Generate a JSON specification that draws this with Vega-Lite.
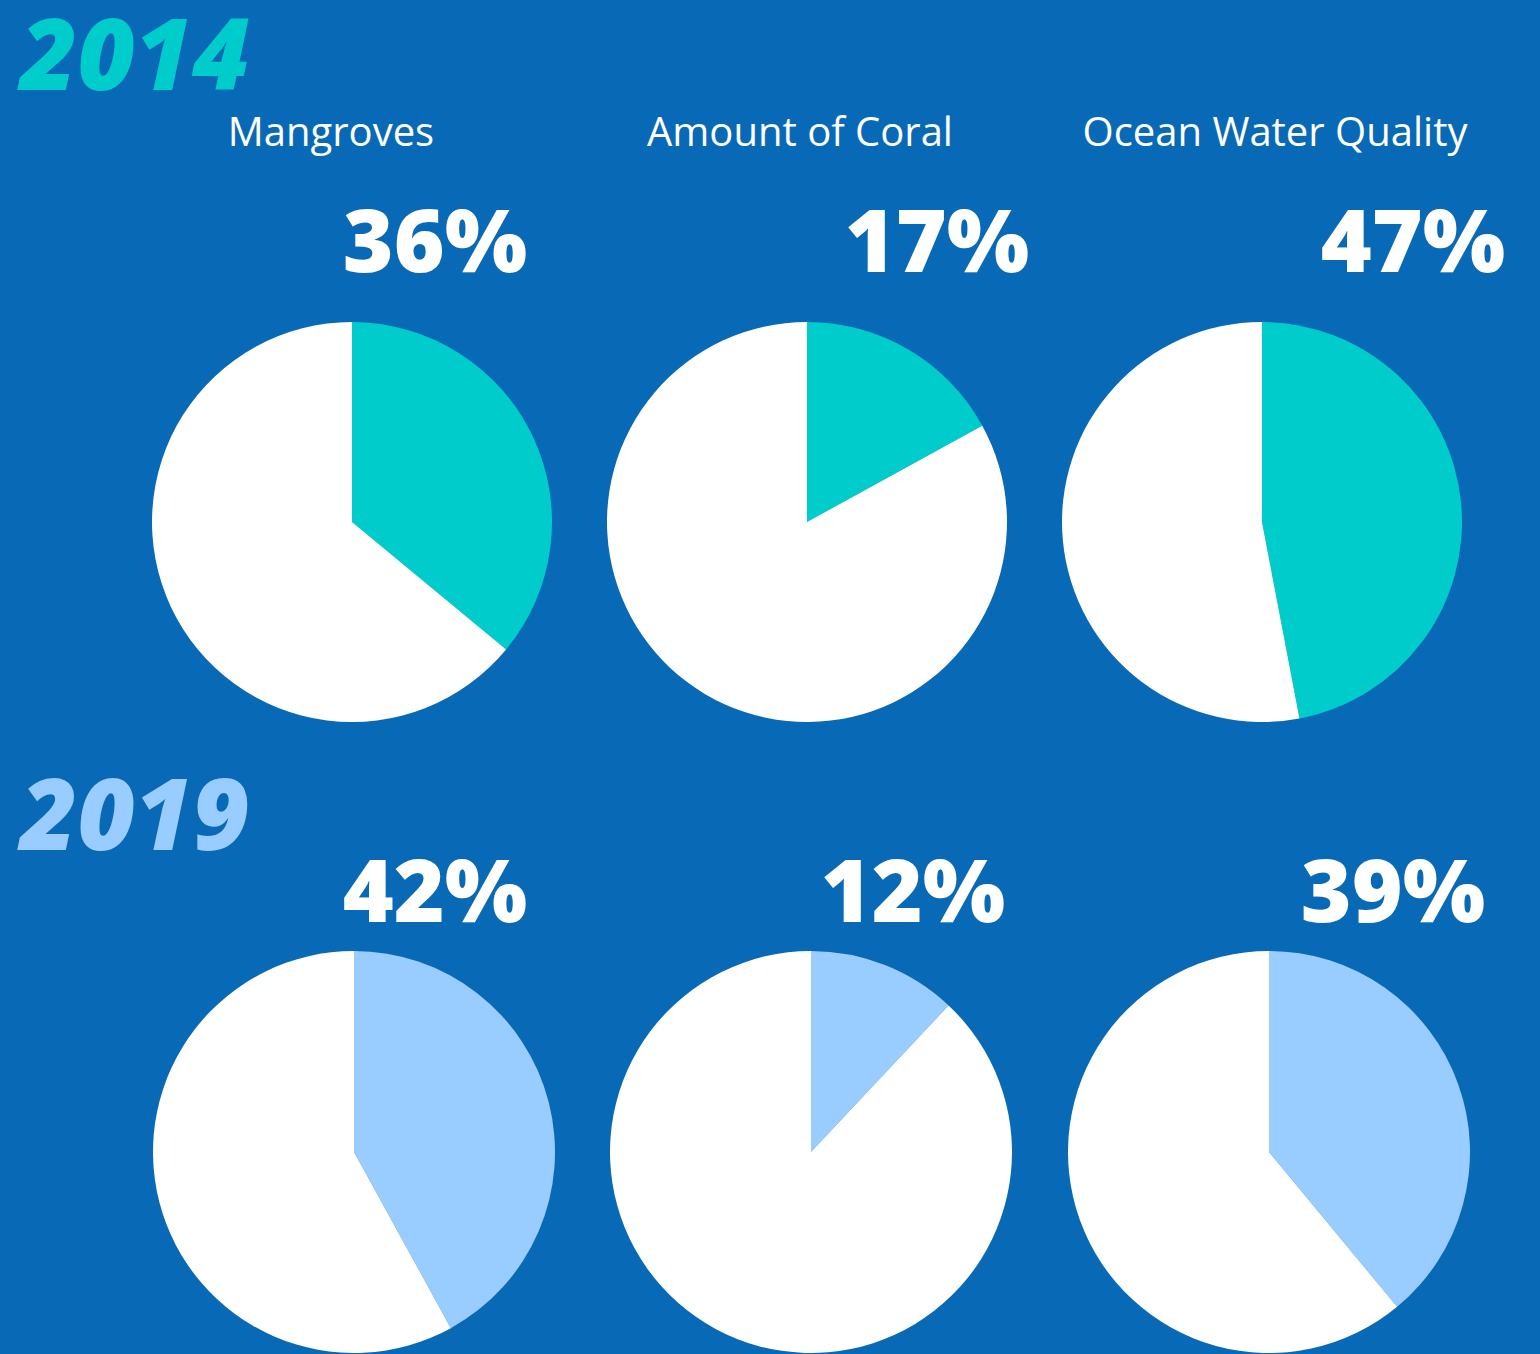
{
  "$schema": "https://vega.github.io/schema/vega-lite/v6.json",
  "width": 1540,
  "height": 1354,
  "autosize": {"type": "fit", "contains": "padding"},
  "padding": 0,
  "background": "#0869B6",
  "config": {"view": {"stroke": null}},
  "datasets": {
    "pies": [
      {"year": 2014, "col": 0, "category": "Mangroves", "seg": "2014", "start": 0, "end": 36, "label": "36%"},
      {"year": 2014, "col": 0, "category": "Mangroves", "seg": "rest", "start": 36, "end": 100, "label": ""},
      {"year": 2014, "col": 1, "category": "Amount of Coral", "seg": "2014", "start": 0, "end": 17, "label": "17%"},
      {"year": 2014, "col": 1, "category": "Amount of Coral", "seg": "rest", "start": 17, "end": 100, "label": ""},
      {"year": 2014, "col": 2, "category": "Ocean Water Quality", "seg": "2014", "start": 0, "end": 47, "label": "47%"},
      {"year": 2014, "col": 2, "category": "Ocean Water Quality", "seg": "rest", "start": 47, "end": 100, "label": ""},
      {"year": 2019, "col": 0, "category": "Mangroves", "seg": "2019", "start": 0, "end": 42, "label": "42%"},
      {"year": 2019, "col": 0, "category": "Mangroves", "seg": "rest", "start": 42, "end": 100, "label": ""},
      {"year": 2019, "col": 1, "category": "Amount of Coral", "seg": "2019", "start": 0, "end": 12, "label": "12%"},
      {"year": 2019, "col": 1, "category": "Amount of Coral", "seg": "rest", "start": 12, "end": 100, "label": ""},
      {"year": 2019, "col": 2, "category": "Ocean Water Quality", "seg": "2019", "start": 0, "end": 39, "label": "39%"},
      {"year": 2019, "col": 2, "category": "Ocean Water Quality", "seg": "rest", "start": 39, "end": 100, "label": ""}
    ],
    "years": [
      {"year": 2014, "col": 0, "label": "2014", "tone": "2014"},
      {"year": 2019, "col": 0, "label": "2019", "tone": "2019"}
    ]
  },
  "layer": [
    {
      "data": {"name": "pies"},
      "transform": [{"filter": "datum.year == 2014"}],
      "mark": {"type": "arc", "radius": 200, "strokeWidth": 0},
      "encoding": {
        "x": {"field": "col", "type": "quantitative", "scale": {"domain": [0, 1, 2], "range": [352, 807, 1262], "nice": false, "zero": false}, "axis": null},
        "y": {"field": "year", "type": "quantitative", "scale": {"domain": [2014, 2019], "range": [522, 1152], "nice": false, "zero": false}, "axis": null},
        "theta": {"field": "start", "type": "quantitative", "scale": {"domain": [0, 100]}},
        "theta2": {"field": "end"},
        "color": {"field": "seg", "type": "nominal", "scale": {"domain": ["2014", "2019", "rest"], "range": ["#00CCCC", "#99CCFF", "#FFFFFF"]}, "legend": null}
      }
    },
    {
      "data": {"name": "pies"},
      "transform": [{"filter": "datum.year == 2019"}],
      "mark": {"type": "arc", "radius": 201, "strokeWidth": 0},
      "encoding": {
        "x": {"field": "col", "type": "quantitative", "scale": {"domain": [0, 1, 2], "range": [354, 811, 1269], "nice": false, "zero": false}, "axis": null},
        "y": {"field": "year", "type": "quantitative", "scale": {"domain": [2014, 2019], "range": [522, 1152], "nice": false, "zero": false}, "axis": null},
        "theta": {"field": "start", "type": "quantitative", "scale": {"domain": [0, 100]}},
        "theta2": {"field": "end"},
        "color": {"field": "seg", "type": "nominal", "scale": {"domain": ["2014", "2019", "rest"], "range": ["#00CCCC", "#99CCFF", "#FFFFFF"]}, "legend": null}
      }
    },
    {
      "data": {"name": "pies"},
      "transform": [{"filter": "datum.year == 2014 && datum.seg != 'rest'"}],
      "mark": {"type": "text", "font": "Open Sans", "fontSize": 40, "color": "#FFFFFF", "align": "center", "baseline": "alphabetic"},
      "encoding": {
        "x": {"field": "col", "type": "quantitative", "scale": {"domain": [0, 1, 2], "range": [331, 800, 1275], "nice": false, "zero": false}, "axis": null},
        "y": {"field": "year", "type": "quantitative", "scale": {"domain": [2014, 2019], "range": [146, 776], "nice": false, "zero": false}, "axis": null},
        "text": {"field": "category"}
      }
    },
    {
      "data": {"name": "pies"},
      "transform": [{"filter": "datum.year == 2014 && datum.seg != 'rest'"}],
      "mark": {"type": "text", "font": "Open Sans", "fontSize": 87, "fontWeight": 800, "color": "#FFFFFF", "align": "center", "baseline": "alphabetic"},
      "encoding": {
        "x": {"field": "col", "type": "quantitative", "scale": {"domain": [0, 1, 2], "range": [435, 937, 1413], "nice": false, "zero": false}, "axis": null},
        "y": {"field": "year", "type": "quantitative", "scale": {"domain": [2014, 2019], "range": [272, 922], "nice": false, "zero": false}, "axis": null},
        "text": {"field": "label"}
      }
    },
    {
      "data": {"name": "pies"},
      "transform": [{"filter": "datum.year == 2019 && datum.seg != 'rest'"}],
      "mark": {"type": "text", "font": "Open Sans", "fontSize": 87, "fontWeight": 800, "color": "#FFFFFF", "align": "center", "baseline": "alphabetic"},
      "encoding": {
        "x": {"field": "col", "type": "quantitative", "scale": {"domain": [0, 1, 2], "range": [435, 913, 1393], "nice": false, "zero": false}, "axis": null},
        "y": {"field": "year", "type": "quantitative", "scale": {"domain": [2014, 2019], "range": [272, 922], "nice": false, "zero": false}, "axis": null},
        "text": {"field": "label"}
      }
    },
    {
      "data": {"name": "years"},
      "mark": {"type": "text", "font": "Open Sans", "fontSize": 99, "fontWeight": 800, "fontStyle": "italic", "align": "left", "baseline": "alphabetic"},
      "encoding": {
        "x": {"field": "col", "type": "quantitative", "scale": {"domain": [0, 2], "range": [20, 1000], "nice": false, "zero": false}, "axis": null},
        "y": {"field": "year", "type": "quantitative", "scale": {"domain": [2014, 2019], "range": [90, 850], "nice": false, "zero": false}, "axis": null},
        "text": {"field": "label"},
        "color": {"field": "tone", "type": "nominal", "scale": {"domain": ["2014", "2019"], "range": ["#00CCCC", "#99CCFF"]}, "legend": null}
      }
    }
  ],
  "resolve": {"scale": {"x": "independent", "y": "independent", "color": "independent"}}
}
